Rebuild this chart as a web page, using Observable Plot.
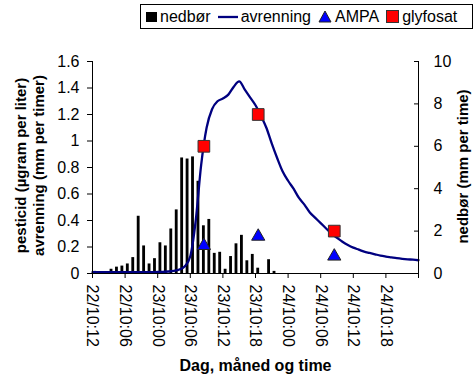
<!DOCTYPE html>
<html><head><meta charset="utf-8">
<script src="https://cdn.jsdelivr.net/npm/d3@7"></script>
<script src="https://cdn.jsdelivr.net/npm/@observablehq/plot@0.6"></script>
<style>
html,body{margin:0;padding:0;background:#fff;font-family:"Liberation Sans",Arial,sans-serif;overflow:hidden;}
#wrap{position:relative;width:475px;height:376px;overflow:hidden;}
#chart svg{display:block;}
#legend{position:absolute;left:140px;top:4px;width:333px;height:25px;border:1px solid #000;box-sizing:border-box;display:flex;align-items:center;font-size:16px;color:#000;padding-left:5px;white-space:nowrap;background:#fff;}
#legend .it{display:flex;align-items:center;margin-right:7px;}
#legend svg{margin-right:3px;}
</style></head>
<body><div id="wrap"><div id="chart"></div><div id="legend"></div></div>
<script>
// rainfall (nedbør), mm per hour, hours 0..33
const nedbor = [0.1,0,0,0.2,0.3,0.35,0.45,0.75,2.7,1.3,0.45,0.7,1.45,1.3,2.1,3.0,5.45,5.4,5.5,4.35,2.25,2.55,0.95,1.0,0.2,0.8,1.4,1.8,0.6,0.9,0.25,0,0.65,0.1];
// runoff (avrenning), mm per hour, hours 0..60
const avrenning = [0.01,0.01,0.01,0.01,0.01,0.01,0.01,0.01,0.01,0.01,0.01,0.01,0.012,0.013,0.015,0.02,0.03,0.055,0.13,0.40,0.82,1.10,1.24,1.30,1.32,1.35,1.41,1.45,1.39,1.33,1.27,1.19,1.10,0.98,0.87,0.77,0.70,0.64,0.57,0.52,0.46,0.42,0.38,0.34,0.30,0.27,0.24,0.215,0.195,0.18,0.165,0.155,0.145,0.135,0.128,0.122,0.116,0.111,0.107,0.104,0.10];
// sample times (hours) and concentrations
const sampleHours = [20.5, 30.5, 44.5];
const ampa = [0.21, 0.28, 0.13];
const glyfosat = [0.96, 1.20, 0.32];
// axes
const leftTicks = [0,0.2,0.4,0.6,0.8,1,1.2,1.4,1.6];
const rightTicks = [0,2,4,6,8,10];
const xTickHours = [0,6,12,18,24,30,36,42,48,54,60];
const xLabels = ["22/10:12","22/10:06","23/10:00","23/10:06","23/10:12","23/10:18","24/10:00","24/10:06","24/10:12","24/10:18",""];
const yMax = 1.6, rightMax = 10, k = yMax / rightMax;

const rain = nedbor.map((v,i)=>({h:i, v}));
const runoff = avrenning.map((v,i)=>({h:i, v}));
const samplesA = sampleHours.map((h,i)=>({h, v: ampa[i]}));
const samplesG = sampleHours.map((h,i)=>({h, v: glyfosat[i]}));
const font = '"Liberation Sans", Arial, sans-serif';

const plot = Plot.plot({
  width: 475, height: 376,
  marginLeft: 92, marginRight: 57, marginTop: 61, marginBottom: 103,
  x: {domain: [0, 60]},
  y: {domain: [0, yMax]},
  style: {fontFamily: font, fontSize: "16px", color: "#000", background: "#fff", overflow: "visible", maxWidth: "none", width: "475px", height: "376px"},
  marks: [
    Plot.rect(rain, {x1: "h", x2: d => d.h + 1, y1: 0, y2: d => d.v * k, fill: "#000", insetLeft: 1.3, insetRight: 1.3}),
    Plot.line(runoff, {x: "h", y: "v", stroke: "#000080", strokeWidth: 2.3, curve: "monotone-x"}),
    Plot.dot(samplesA, {x: "h", y: "v", symbol: "triangle", r: 4.9, fill: "#0000ff", stroke: "#222", strokeWidth: 1}),
    Plot.dot(samplesG, {x: "h", y: "v", symbol: "square", r: 6.6, fill: "#ff0000", stroke: "#333", strokeWidth: 1}),
    Plot.ruleY([0], {stroke: "#000"}),
    Plot.ruleX([0, 60], {stroke: "#000"}),
    Plot.axisY(leftTicks, {anchor: "left", tickSize: 5, tickPadding: 8, tickFormat: d => String(+d.toFixed(1)), label: null, fontSize: 16}),
    Plot.axisY(rightTicks.map(v => v * k), {anchor: "right", tickSize: 0, tickPadding: 15, tickFormat: d => String(Math.round(d / k)), label: null, fontSize: 16}),
    Plot.axisY(rightTicks.map(v => v * k), {anchor: "right", tickSize: 5, dx: -5, tickFormat: () => "", label: null}),
    Plot.axisX(xTickHours, {anchor: "bottom", tickSize: 5, tickPadding: 6, tickRotate: 90, tickFormat: (d, i) => xLabels[i], label: null, fontSize: 16}),
    Plot.text(["pesticid (µgram per liter)\navrenning (mm per timer)"], {text: d => d, frameAnchor: "left", textAnchor: "middle", lineAnchor: "middle", dx: -63, dy: -2, rotate: -90, fontWeight: "bold", fontSize: 15, lineHeight: 1.15}),
    Plot.text(["nedbør (mm per time)"], {text: d => d, frameAnchor: "right", textAnchor: "middle", lineAnchor: "middle", dx: 45, dy: -1, rotate: -90, fontWeight: "bold", fontSize: 15}),
    Plot.text(["Dag, måned og time"], {text: d => d, frameAnchor: "bottom", textAnchor: "middle", lineAnchor: "middle", dy: 92, fontWeight: "bold", fontSize: 16})
  ]
});
document.getElementById("chart").appendChild(plot);

// legend
const legendItems = [
  {name: "nedbør", icon: '<svg width="11" height="11"><rect x="0" y="1" width="11" height="10" fill="#000"/></svg>'},
  {name: "avrenning", icon: '<svg width="20" height="10"><line x1="0" y1="5" x2="20" y2="5" stroke="#000080" stroke-width="2.3"/></svg>'},
  {name: "AMPA", icon: '<svg width="14" height="13"><path d="M7,1 L13,12 L1,12 Z" fill="#0000ff" stroke="#222" stroke-width="1"/></svg>'},
  {name: "glyfosat", icon: '<svg width="13" height="13"><rect x="0.5" y="0.5" width="12" height="12" fill="#ff0000" stroke="#333" stroke-width="1"/></svg>'}
];
const lg = document.getElementById("legend");
legendItems.forEach(it => {
  const s = document.createElement("span");
  s.className = "it";
  s.innerHTML = it.icon + "<span>" + it.name + "</span>";
  lg.appendChild(s);
});
</script></body></html>
